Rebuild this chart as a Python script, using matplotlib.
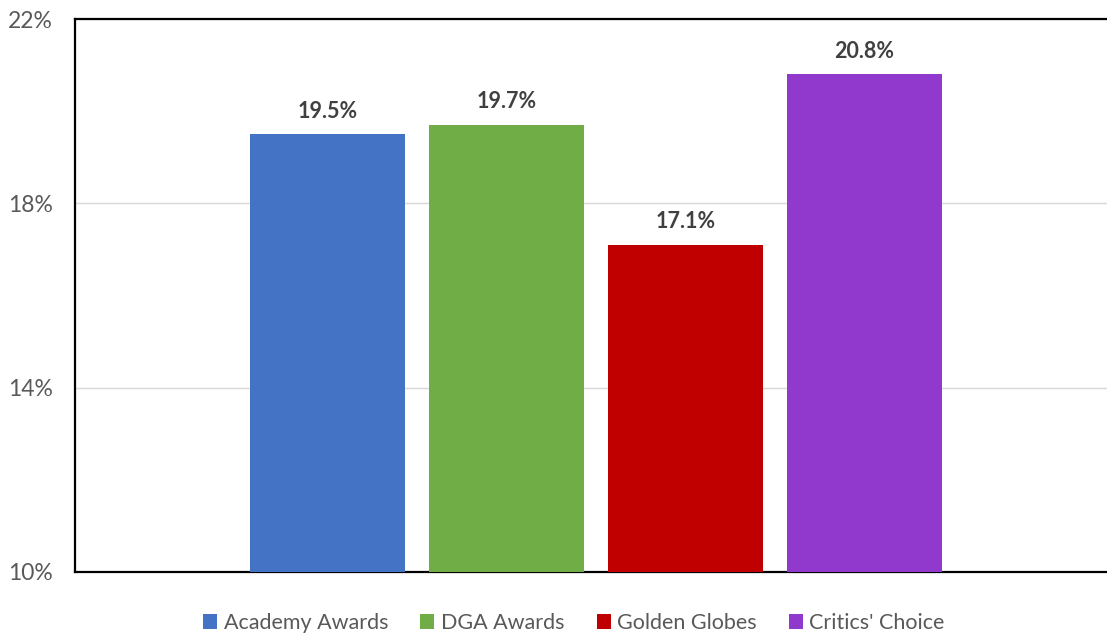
import matplotlib.pyplot as plt
from matplotlib.patches import Patch

# data
series = ["Academy Awards", "DGA Awards", "Golden Globes", "Critics' Choice"]
values = [19.5, 19.7, 17.1, 20.8]
colors = ["#4472c4", "#70ad47", "#c00000", "#9039cc"]
y_ticks = [10, 14, 18, 22]

plt.rcParams['font.family'] = ['Lato', 'DejaVu Sans']

fig = plt.figure(figsize=(11.07, 6.35), dpi=100)
ax = fig.add_axes([75 / 1107, 63 / 635, 1 - 75 / 1107, (572 - 19) / 635])

x = list(range(len(series)))
ax.bar(x, values, width=0.866, color=colors, bottom=0, zorder=3)

for xi, v in zip(x, values):
    ax.annotate(f"{v:.1f}%", (xi, v), xytext=(0, 9), textcoords="offset points",
                ha="center", va="bottom", fontsize=15.5, fontweight="bold", color="#404040")

ax.set_ylim(10, 22)
ax.set_xlim(-1.41, 4.357)
ax.set_yticks(y_ticks)
ax.set_yticklabels([f"{t}%" for t in y_ticks], fontsize=16.5, color="#595959")
ax.tick_params(axis="y", length=0, pad=16)
ax.set_xticks([])
ax.grid(axis="y", color="#d9d9d9", linewidth=1, zorder=0)

for side in ["left", "bottom", "top"]:
    ax.spines[side].set_color("black")
    ax.spines[side].set_linewidth(1.6)
ax.spines["right"].set_visible(False)

handles = [Patch(facecolor=c, label=s) for s, c in zip(series, colors)]
fig.legend(handles=handles, loc="center", bbox_to_anchor=(574 / 1107, 12 / 635), ncol=4,
           frameon=False, fontsize=15.5, labelcolor="#595959", handlelength=0.65, handleheight=0.65,
           handletextpad=0.3, columnspacing=1.5)

fig.savefig("out.png", dpi=100)
